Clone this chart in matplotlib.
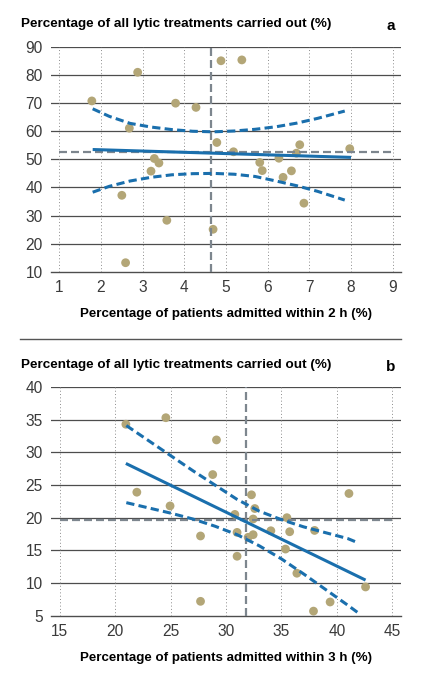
import numpy as np
import matplotlib.pyplot as plt

plt.rcParams['font.family'] = ['Liberation Sans', 'DejaVu Sans']

# ---- panel a data (2 h) ----
a_x = [1.78, 2.88, 2.68, 3.79, 4.28, 4.88, 5.38, 4.78, 5.18, 6.77, 6.69, 7.97, 3.28,
       3.39, 5.81, 6.27, 3.20, 5.87, 6.37, 6.57, 2.50, 6.87, 3.58, 4.69, 2.59]
a_y = [70.8, 81.0, 61.1, 70.0, 68.5, 85.1, 85.4, 56.0, 52.7, 55.2, 52.2, 53.8, 50.3,
       48.7, 48.9, 50.4, 45.8, 46.0, 43.6, 45.9, 37.2, 34.4, 28.3, 25.1, 13.2]
a_fit_x = [1.8, 8.0]
a_fit_y = [53.5, 50.7]
a_ci_x = [1.8, 2.2, 2.7, 3.2, 3.7, 4.2, 4.7, 5.2, 5.7, 6.2, 6.7, 7.2, 7.85]
a_ci_hi = [68.0, 65.3, 62.8, 61.5, 60.6, 60.0, 59.8, 60.1, 60.7, 61.6, 62.9, 64.6, 67.2]
a_ci_lo = [38.3, 40.4, 42.3, 43.6, 44.5, 44.9, 45.0, 44.7, 43.9, 42.3, 40.6, 38.6, 35.5]
a_mean_x = 4.63
a_mean_y = 52.5
a_xticks = [1, 2, 3, 4, 5, 6, 7, 8, 9]
a_yticks = [10, 20, 30, 40, 50, 60, 70, 80, 90]

# ---- panel b data (3 h) ----
b_x = [20.96, 24.57, 29.14, 28.8, 21.95, 24.95, 32.3, 32.6, 30.8, 32.45, 35.5, 31.0, 32.45,
       32.0, 34.05, 35.75, 38.0, 35.37, 31.0, 36.4, 42.6, 39.4, 37.9, 41.1, 27.7, 27.7]
b_y = [34.3, 35.3, 31.9, 26.6, 23.9, 21.8, 23.5, 21.4, 20.5, 19.8, 20.0, 17.75, 17.4,
       17.0, 18.0, 17.85, 18.05, 15.2, 14.1, 11.5, 9.4, 7.1, 5.7, 23.7, 17.2, 7.2]
b_fit_x = [20.96, 42.6]
b_fit_y = [28.3, 10.45]
b_ci_x = [21, 23, 25, 27, 29, 31, 33, 35, 37, 39, 41, 42]
b_ci_hi = [34.1, 31.8, 29.5, 27.2, 25.0, 22.8, 21.0, 19.7, 18.6, 17.7, 16.8, 16.1]
b_ci_lo = [22.3, 21.5, 20.7, 19.8, 18.7, 17.4, 15.7, 13.7, 11.4, 9.0, 6.6, 5.35]
b_mean_x = 31.8
b_mean_y = 19.6
b_xticks = [15, 20, 25, 30, 35, 40, 45]
b_yticks = [5, 10, 15, 20, 25, 30, 35, 40]

dot_col = '#b3a677'
blue = '#1a6fad'
mean_col = '#7d868e'
grid_col = '#4d4d4d'

fig = plt.figure(figsize=(4.23, 6.88), dpi=100)


def panel(rect, xs, ys, fx, fy, cx, chi, clo, mx, my, xt, yt, xlim, xlabel):
    ax = fig.add_axes(rect)
    ax.set_xlim(*xlim)
    ax.set_ylim(yt[0], yt[-1])
    for s in ['top', 'right', 'left']:
        ax.spines[s].set_visible(False)
    ax.spines['bottom'].set_color(grid_col)
    ax.spines['bottom'].set_linewidth(1.0)
    for v in yt[1:]:
        ax.axhline(v, color=grid_col, lw=0.9, zorder=1)
    for v in xt:
        ax.axvline(v, color='#8c8c8c', lw=0.7, ls=(0, (1, 2.4)), zorder=1)
    ax.scatter(xs, ys, s=40, color=dot_col, edgecolor='none', zorder=2)
    ax.plot([xt[0], xt[-1]], [my, my], color=mean_col, lw=1.6, ls=(0, (3.6, 1.8)), zorder=3)
    ax.axvline(mx, color=mean_col, lw=1.6, ls=(0, (3.6, 1.8)), zorder=3)
    ax.plot(fx, fy, color=blue, lw=2.2, zorder=4, solid_capstyle='butt')
    ax.plot(cx, chi, color=blue, lw=2.2, ls=(0, (2.7, 1.4)), zorder=4)
    ax.plot(cx, clo, color=blue, lw=2.2, ls=(0, (2.7, 1.4)), zorder=4)
    ax.set_xticks(xt)
    ax.set_yticks(yt)
    ax.tick_params(length=0, labelsize=11.2, labelcolor='#3a3a3a')
    ax.tick_params(axis='x', pad=6)
    ax.tick_params(axis='y', pad=6)
    ax.set_xlabel(xlabel, fontsize=9.6, fontweight='bold', labelpad=9)
    return ax


ax1 = panel([51 / 423, 1 - 271.7 / 688, 350 / 423, 224.7 / 688],
            a_x, a_y, a_fit_x, a_fit_y, a_ci_x, a_ci_hi, a_ci_lo,
            a_mean_x, a_mean_y, a_xticks, a_yticks, (0.8, 9.2),
            'Percentage of patients admitted within 2 h (%)')
ax2 = panel([51 / 423, 1 - 615.7 / 688, 350 / 423, 228.7 / 688],
            b_x, b_y, b_fit_x, b_fit_y, b_ci_x, b_ci_hi, b_ci_lo,
            b_mean_x, b_mean_y, b_xticks, b_yticks, (14.2, 45.8),
            'Percentage of patients admitted within 3 h (%)')

title = 'Percentage of all lytic treatments carried out (%)'
fig.text(21 / 423, 1 - 24 / 688, title, fontsize=9.7, fontweight='bold', va='center')
fig.text(391 / 423, 1 - 26 / 688, 'a', fontsize=11, fontweight='bold', va='center', ha='center')
fig.text(21 / 423, 1 - 365 / 688, title, fontsize=9.7, fontweight='bold', va='center')
fig.text(391 / 423, 1 - 367 / 688, 'b', fontsize=11, fontweight='bold', va='center', ha='center')

# separator between the panels
fig.add_artist(plt.Line2D([20 / 423, 401 / 423], [1 - 339 / 688, 1 - 339 / 688],
                          color='#555555', lw=1.0))

fig.savefig('out.png', dpi=100, facecolor='white')
